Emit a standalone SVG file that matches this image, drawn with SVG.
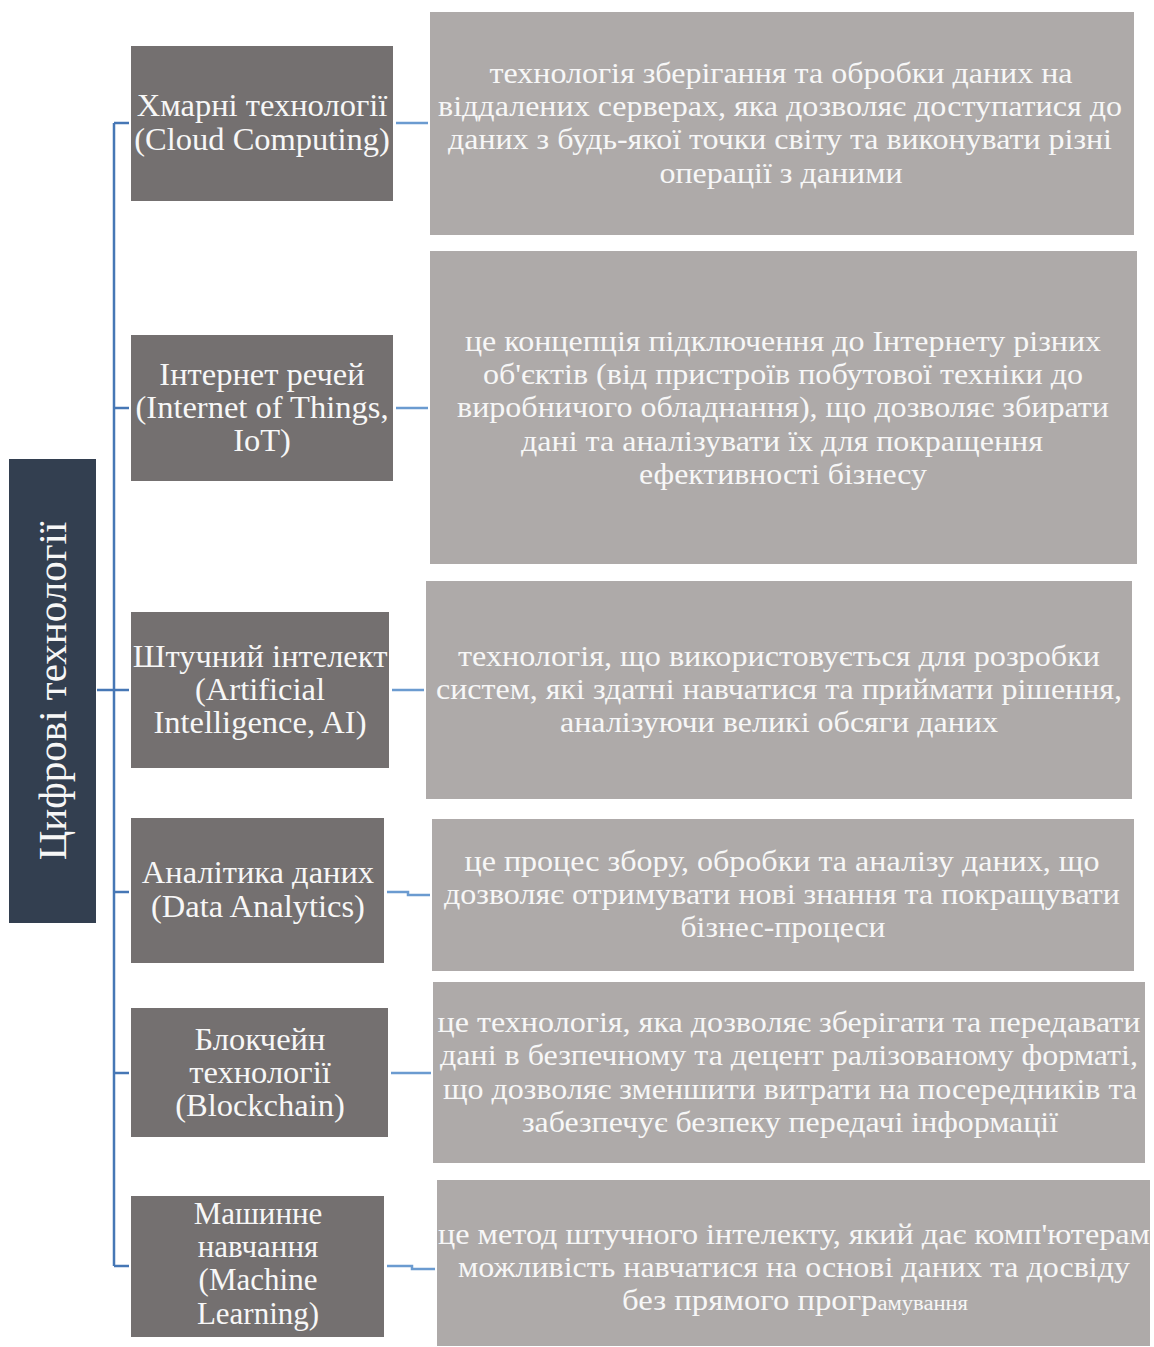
<svg xmlns="http://www.w3.org/2000/svg" width="1154" height="1347" viewBox="0 0 1154 1347">
  <style>
    .root { fill: #333f50; }
    .tech { fill: #747070; }
    .desc { fill: #aeaaa9; }
    .edge { fill: none; stroke: #4677b5; stroke-width: 2.5; }
    .edge-r { fill: none; stroke: #6b9bd0; stroke-width: 2.5; }
    text { font-family: "Liberation Serif", "Times New Roman", serif; fill: #f7f7f7; text-anchor: middle; }
    .t-tech { font-size: 32.5px; }
    .t-tech-s { font-size: 31px; }
    .t-desc { font-size: 29px; }
    .t-root { font-size: 41px; }
  </style>

  <!-- connectors -->
  <g id="connectors">
    <path class="edge" d="M114 123 V1266"/>
    <path class="edge" d="M97 690 H129"/>
    <path class="edge" d="M114 123 H129"/>
    <path class="edge" d="M114 408 H129"/>
    <path class="edge" d="M114 892 H129"/>
    <path class="edge" d="M114 1073 H129"/>
    <path class="edge" d="M114 1266 H129"/>
    <path class="edge-r" d="M396 123 H428"/>
    <path class="edge-r" d="M396 408 H428"/>
    <path class="edge-r" d="M392 690 H424"/>
    <path class="edge-r" d="M387 892 H408 V895 H430"/>
    <path class="edge-r" d="M391 1073 H431"/>
    <path class="edge-r" d="M387 1266 H412 V1269 H435"/>
  </g>

  <!-- root -->
  <g id="root">
    <rect class="root" x="9" y="459" width="87" height="464"/>
    <text class="t-root" transform="translate(66 691) rotate(-90)" x="0" y="0">Цифрові технології</text>
  </g>

  <!-- technology nodes -->
  <g id="node-cloud">
    <rect class="tech" x="131" y="46" width="262" height="155"/>
    <text class="t-tech" x="262" y="116">Хмарні технології</text>
    <text class="t-tech" x="262" y="150">(Cloud Computing)</text>
  </g>
  <g id="node-iot">
    <rect class="tech" x="131" y="335" width="262" height="146"/>
    <text class="t-tech" x="262" y="385">Інтернет речей</text>
    <text class="t-tech" x="262" y="418">(Internet of Things,</text>
    <text class="t-tech" x="262" y="451">IoT)</text>
  </g>
  <g id="node-ai">
    <rect class="tech" x="131" y="612" width="258" height="156"/>
    <text class="t-tech" x="260" y="667">Штучний інтелект</text>
    <text class="t-tech" x="260" y="700">(Artificial</text>
    <text class="t-tech" x="260" y="733">Intelligence, AI)</text>
  </g>
  <g id="node-analytics">
    <rect class="tech" x="131" y="818" width="253" height="145"/>
    <text class="t-tech" x="258" y="883">Аналітика  даних</text>
    <text class="t-tech" x="258" y="917">(Data Analytics)</text>
  </g>
  <g id="node-blockchain">
    <rect class="tech" x="131" y="1008" width="257" height="129"/>
    <text class="t-tech" x="260" y="1050">Блокчейн</text>
    <text class="t-tech" x="260" y="1083">технології</text>
    <text class="t-tech" x="260" y="1116">(Blockchain)</text>
  </g>
  <g id="node-ml">
    <rect class="tech" x="131" y="1196" width="253" height="141"/>
    <text class="t-tech-s" x="258" y="1224">Машинне</text>
    <text class="t-tech-s" x="258" y="1257">навчання</text>
    <text class="t-tech-s" x="258" y="1290">(Machine</text>
    <text class="t-tech-s" x="258" y="1324">Learning)</text>
  </g>

  <!-- description boxes -->
  <g id="desc-cloud">
    <rect class="desc" x="430" y="12" width="704" height="223"/>
    <text class="t-desc" x="781" y="83" textLength="583" lengthAdjust="spacingAndGlyphs">технологія зберігання та обробки даних на</text>
    <text class="t-desc" x="780" y="116" textLength="684" lengthAdjust="spacingAndGlyphs">віддалених  серверах, яка дозволяє доступатися до</text>
    <text class="t-desc" x="780" y="149" textLength="664" lengthAdjust="spacingAndGlyphs">даних з будь-якої точки світу  та виконувати різні</text>
    <text class="t-desc" x="781" y="183" textLength="243" lengthAdjust="spacingAndGlyphs">операції  з даними</text>
  </g>
  <g id="desc-iot">
    <rect class="desc" x="430" y="251" width="707" height="313"/>
    <text class="t-desc" x="783" y="351" textLength="636" lengthAdjust="spacingAndGlyphs">це концепція підключення  до Інтернету різних</text>
    <text class="t-desc" x="783" y="384" textLength="600" lengthAdjust="spacingAndGlyphs">об'єктів (від пристроїв побутової техніки  до</text>
    <text class="t-desc" x="783" y="417" textLength="652" lengthAdjust="spacingAndGlyphs">виробничого обладнання), що дозволяє збирати</text>
    <text class="t-desc" x="782" y="451" textLength="522" lengthAdjust="spacingAndGlyphs">дані та аналізувати їх для покращення</text>
    <text class="t-desc" x="783" y="484" textLength="288" lengthAdjust="spacingAndGlyphs">ефективності бізнесу</text>
  </g>
  <g id="desc-ai">
    <rect class="desc" x="426" y="581" width="706" height="218"/>
    <text class="t-desc" x="779" y="666" textLength="642" lengthAdjust="spacingAndGlyphs">технологія, що використовується для розробки</text>
    <text class="t-desc" x="779" y="699" textLength="686" lengthAdjust="spacingAndGlyphs">систем, які здатні навчатися та приймати рішення,</text>
    <text class="t-desc" x="779" y="732" textLength="438" lengthAdjust="spacingAndGlyphs">аналізуючи великі  обсяги даних</text>
  </g>
  <g id="desc-analytics">
    <rect class="desc" x="432" y="819" width="702" height="152"/>
    <text class="t-desc" x="782" y="871" textLength="635" lengthAdjust="spacingAndGlyphs">це процес збору, обробки та аналізу  даних, що</text>
    <text class="t-desc" x="782" y="904" textLength="676" lengthAdjust="spacingAndGlyphs">дозволяє отримувати нові знання та покращувати</text>
    <text class="t-desc" x="783" y="937" textLength="205" lengthAdjust="spacingAndGlyphs">бізнес-процеси</text>
  </g>
  <g id="desc-blockchain">
    <rect class="desc" x="433" y="982" width="712" height="181"/>
    <text class="t-desc" x="789" y="1032" textLength="703" lengthAdjust="spacingAndGlyphs">це технологія, яка дозволяє зберігати та передавати</text>
    <text class="t-desc" x="789" y="1065" textLength="698" lengthAdjust="spacingAndGlyphs">дані в безпечному та децент ралізованому форматі,</text>
    <text class="t-desc" x="790" y="1099" textLength="694" lengthAdjust="spacingAndGlyphs">що дозволяє зменшити витрати на посередників та</text>
    <text class="t-desc" x="790" y="1132" textLength="536" lengthAdjust="spacingAndGlyphs">забезпечує безпеку передачі інформації</text>
  </g>
  <g id="desc-ml">
    <rect class="desc" x="437" y="1180" width="713" height="166"/>
    <text class="t-desc" x="794" y="1244" textLength="712" lengthAdjust="spacingAndGlyphs">це метод штучного інтелекту, який дає комп'ютерам</text>
    <text class="t-desc" x="794" y="1277" textLength="672" lengthAdjust="spacingAndGlyphs">можливість  навчатися на основі даних та досвіду</text>
    <text class="t-desc" x="795" y="1310" textLength="346" lengthAdjust="spacingAndGlyphs">без прямого прогр<tspan font-size="20">амування</tspan></text>
  </g>
</svg>
